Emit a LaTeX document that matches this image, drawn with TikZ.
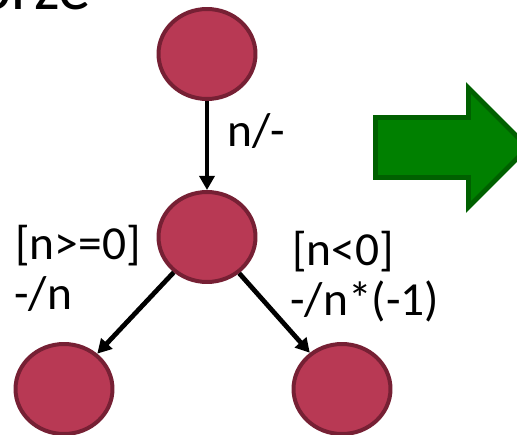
\documentclass[tikz,border=0pt]{standalone}
\usepackage{fontspec}
\setmainfont{Carlito}
\usetikzlibrary{arrows.meta,shapes.geometric}
\definecolor{stfill}{RGB}{184,57,84}
\definecolor{stline}{RGB}{118,32,52}
\definecolor{okgreen}{RGB}{0,128,0}
\definecolor{okdark}{RGB}{0,96,0}

\begin{document}
\begin{tikzpicture}[x=0.02cm,y=-0.02cm,
    state/.style={ellipse, draw=stline, fill=stfill, line width=0.08cm,
      minimum width=1.94cm, minimum height=1.8cm, inner sep=0pt},
    trans/.style={-{Triangle[length=8pt,width=8.5pt]}, line width=2.7pt},
    lbl/.style={inner sep=0pt, anchor=base west, font=\fontsize{27}{29}\selectfont}]
    \useasboundingbox (0,0) rectangle (517,435);

    % Title (cut off at the top)
    \node[inner sep=0pt, anchor=base west, font=\fontsize{37}{40}\selectfont] (title) at (-23,10) {orze};

    % States
    \node[state] (s0) at (207,54) {};
    \node[state] (s1) at (207,237) {};
    \node[state] (s2) at (64,389) {};
    \node[state] (s3) at (342,389) {};

    % Transitions
    \draw[trans] (s0) -- (s1);
    \draw[trans] (s1) -- (s2);
    \draw[trans] (s1) -- (s3);

    % Transition labels
    \node[lbl] (in) at (227,147) {n/-};
    \node[lbl] (posg) at (15,260) {[n>=0]};
    \node[lbl] (posa) at (14,310) {-/n};
    \node[lbl] (negg) at (292,266) {[n<0]};
    \node[lbl] (nega) at (290,316) {-/n*(-1)};

    % Result arrow
    \draw[okdark, fill=okgreen, line width=2.8pt, line join=miter]
      (375.5,117.5) -- (468.5,117.5) -- (468.5,88) -- (528,147.5)
      -- (468.5,207) -- (468.5,177.5) -- (375.5,177.5) -- cycle;
\end{tikzpicture}
\end{document}
